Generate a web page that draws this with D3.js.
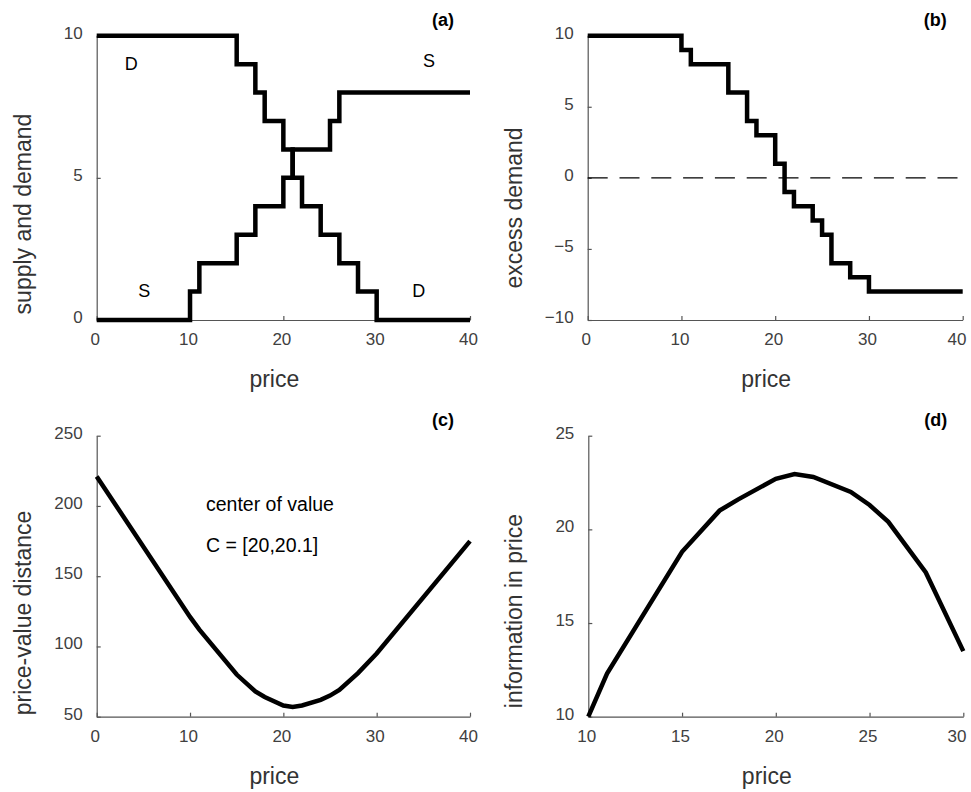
<!DOCTYPE html>
<html>
<head>
<meta charset="utf-8">
<script src="https://cdn.jsdelivr.net/npm/d3@7"></script>
<style>
  html, body { margin: 0; padding: 0; background: #fff; overflow: hidden; }
  svg { display: block; font-family: "Liberation Sans", Arial, sans-serif; }
</style>
</head>
<body>
<svg id="chart" width="971" height="792"></svg>
<script>
// ---------- data ----------
// (a) demand and supply step schedules: value holds from this price to the next
const demandPrices = [0, 15, 17, 18, 20, 21, 22, 24, 26, 28, 30, 40];
const demandQty    = [10, 9, 8, 7, 6, 5, 4, 3, 2, 1, 0, 0];
const supplyPrices = [0, 10, 11, 15, 17, 20, 21, 25, 26, 40];
const supplyQty    = [0, 1, 2, 3, 4, 5, 6, 7, 8, 8];
// (b) excess demand steps
const excessPrices = [0, 10, 11, 15, 17, 18, 20, 21, 22, 24, 25, 26, 28, 30, 40];
const excessValues = [10, 9, 8, 6, 4, 3, 1, -1, -2, -3, -4, -6, -7, -8, -8];
// (c) price-value distance
const distPrices = [0, 10, 11, 15, 17, 18, 20, 21, 22, 24, 25, 26, 28, 30, 40];
const distValues = [221, 121, 112, 80, 68, 64, 58, 57, 58, 62, 65, 69, 81, 95, 175];
// (d) information in price
const infoPrices = [10, 11, 15, 17, 18, 20, 21, 22, 24, 25, 26, 28, 30];
const infoValues = [10.0, 12.3, 18.8, 21.0, 21.6, 22.7, 22.95, 22.8, 22.0, 21.3, 20.4, 17.7, 13.5];

// tick labels
const ticksPrice40 = [0, 10, 20, 30, 40];
const ticksPrice30 = [10, 15, 20, 25, 30];
const ticksSD = [0, 5, 10];
const ticksExcess = [-10, -5, 0, 5, 10];
const ticksDist = [50, 100, 150, 200, 250];
const ticksInfo = [10, 15, 20, 25];

const panelLabels = ["(a)", "(b)", "(c)", "(d)"];
const yTitles = ["supply and demand", "excess demand", "price-value distance", "information in price"];
const xTitle = "price";
const annotationLines = ["center of value", "C = [20,20.1]"];

// ---------- layout ----------
const svg = d3.select("#chart");
const FONT = '"Liberation Sans", Arial, sans-serif';
const W = 971;

const panels = [
  { box: [96.7, 470, 35.7, 320], xd: [0, 40], yd: [0, 10], xt: ticksPrice40, yt: ticksSD, yTitleY: 214 },
  { box: [587.7, 962.7, 35.7, 320], xd: [0, 40], yd: [-10, 10], xt: ticksPrice40, yt: ticksExcess, yTitleY: 208 },
  { box: [96.7, 470, 435.7, 716.7], xd: [0, 40], yd: [50, 250], xt: ticksPrice40, yt: ticksDist, yTitleY: 613 },
  { box: [588.3, 963.3, 435.7, 716.7], xd: [10, 30], yd: [10, 25], xt: ticksPrice30, yt: ticksInfo, yTitleY: 611 }
];

panels.forEach((p, i) => {
  const [x0, x1, y0, y1] = p.box;
  p.x = d3.scaleLinear().domain(p.xd).range([x0, x1]);
  p.y = d3.scaleLinear().domain(p.yd).range([y1, y0]);

  const g = svg.append("g");

  // x axis
  const gx = g.append("g").attr("transform", `translate(0,${y1})`)
    .call(d3.axisBottom(p.x).tickValues(p.xt).tickSizeInner(-4).tickSizeOuter(0).tickPadding(13).tickFormat(d3.format("d")));
  // y axis
  const gy = g.append("g").attr("transform", `translate(${x0},0)`)
    .call(d3.axisLeft(p.y).tickValues(p.yt).tickSizeInner(-4).tickSizeOuter(0).tickPadding(14).tickFormat(d3.format("d")));

  [gx, gy].forEach(a => {
    a.select(".domain").attr("stroke", "#555").attr("stroke-width", 1.2);
    a.selectAll(".tick line").attr("stroke", "#555").attr("stroke-width", 1.2);
    a.selectAll(".tick text").attr("fill", "#404040").style("font-family", FONT).style("font-size", "17px");
  });
  gy.selectAll(".tick text").attr("y", -3);
  // keep x tick labels inside the page (last label shifts left as in the reference)
  gx.selectAll(".tick text").each(function (d) {
    const bb = this.getBBox();
    const cx = p.x(d);
    const right = cx + bb.width / 2;
    let dx = -2;
    if (right + dx > W - 5) dx = (W - 5) - right;
    d3.select(this).attr("x", dx);
  });

  // x title
  g.append("text")
    .attr("x", (x0 + x1) / 2 - 9).attr("y", y1 + 67)
    .attr("text-anchor", "middle").attr("fill", "#333")
    .style("font-size", "23px").text(xTitle);
  // y title
  const tx = x0 - 74;
  g.append("text")
    .attr("transform", `translate(${tx},${p.yTitleY}) rotate(-90)`)
    .attr("text-anchor", "middle").attr("dy", "0.35em").attr("fill", "#333")
    .style("font-size", "23px").text(yTitles[i]);
  // panel label
  g.append("text")
    .attr("x", x1 - 16).attr("y", y0 - 10)
    .attr("text-anchor", "end").attr("fill", "#000")
    .style("font-size", "18px").style("font-weight", "bold").text(panelLabels[i]);

  p.g = g;
});

const lineStyle = sel => sel.attr("fill", "none").attr("stroke", "#000")
  .attr("stroke-width", 4.5).attr("stroke-linejoin", "miter").attr("stroke-linecap", "butt");

// (a)
{
  const p = panels[0];
  const step = d3.line().x(d => p.x(d[0])).y(d => p.y(d[1])).curve(d3.curveStepAfter);
  const dPts = d3.zip(demandPrices, demandQty);
  const sPts = d3.zip(supplyPrices, supplyQty);
  p.g.append("path").datum(dPts).attr("d", step).call(lineStyle);
  p.g.append("path").datum(sPts).attr("d", step).call(lineStyle);
  const labs = [["D", 3.7, 8.8], ["S", 35.6, 8.9], ["S", 5.1, 0.82], ["D", 34.5, 0.82]];
  labs.forEach(([t, px, qy]) => {
    p.g.append("text").attr("x", p.x(px)).attr("y", p.y(qy))
      .attr("text-anchor", "middle").attr("fill", "#000")
      .style("font-size", "18px").text(t);
  });
}
// (b)
{
  const p = panels[1];
  const step = d3.line().x(d => p.x(d[0])).y(d => p.y(d[1])).curve(d3.curveStepAfter);
  p.g.append("line")
    .attr("x1", p.x(0)).attr("x2", p.x(40)).attr("y1", p.y(0)).attr("y2", p.y(0))
    .attr("stroke", "#000").attr("stroke-width", 1.3).attr("stroke-dasharray", "20,11.8");
  p.g.append("path").datum(d3.zip(excessPrices, excessValues)).attr("d", step).call(lineStyle);
}
// (c)
{
  const p = panels[2];
  const ln = d3.line().x(d => p.x(d[0])).y(d => p.y(d[1]));
  p.g.append("path").datum(d3.zip(distPrices, distValues)).attr("d", ln).call(lineStyle);
  annotationLines.forEach((t, k) => {
    p.g.append("text").attr("x", 206).attr("y", 511 + k * 41)
      .attr("fill", "#000").style("font-size", "19.5px").text(t);
  });
}
// (d)
{
  const p = panels[3];
  const ln = d3.line().x(d => p.x(d[0])).y(d => p.y(d[1]));
  p.g.append("path").datum(d3.zip(infoPrices, infoValues)).attr("d", ln).call(lineStyle);
}
</script>
</body>
</html>
